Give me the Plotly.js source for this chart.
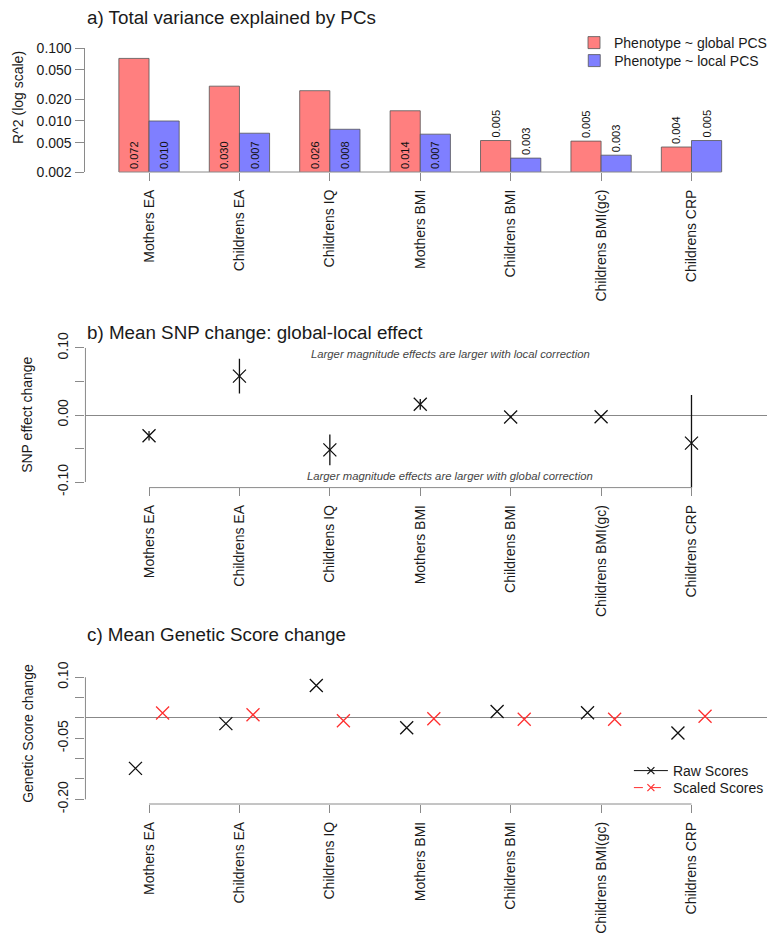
<!DOCTYPE html>
<html>
<head>
<meta charset="utf-8">
<script src="https://cdn.plot.ly/plotly-3.0.1.min.js"></script>
<style>html,body{margin:0;padding:0;background:#fff;}#chart{width:772px;height:934px;}</style>
</head>
<body>
<div id="chart"></div>
<script>
// ---------------- data ----------------
const categories = ["Mothers EA", "Childrens EA", "Childrens IQ", "Mothers BMI", "Childrens BMI", "Childrens BMI(gc)", "Childrens CRP"];

// a) R^2 of phenotype on PCs
const r2Global = [0.072, 0.030, 0.026, 0.0138, 0.0054, 0.0053, 0.0044];
const r2Local  = [0.0100, 0.0068, 0.0077, 0.0066, 0.0031, 0.0034, 0.0054];
const r2TickVals = [0.002, 0.005, 0.010, 0.020, 0.050, 0.100];
const r2TickText = ["0.002", "0.005", "0.010", "0.020", "0.050", "0.100"];

// b) mean SNP change (global - local) and error half-widths
const snpChange = [-0.031, 0.058, -0.052, 0.016, -0.003, -0.0025, -0.042];
const snpErr    = [0.007, 0.026, 0.023, 0.008, 0.002, 0.002, 0.072];
const snpTickVals = [-0.10, -0.05, 0.00, 0.05, 0.10];
const snpTickText = ["-0.10", "", "0.00", "", "0.10"];

// c) mean genetic score change
const rawScores    = [-0.124, -0.014, 0.080, -0.024, 0.016, 0.013, -0.037];
const scaledScores = [0.012, 0.008, -0.007, -0.002, -0.003, -0.003, 0.004];
const gsTickVals = [-0.20, -0.15, -0.10, -0.05, 0.00, 0.05, 0.10];
const gsTickText = ["-0.20", "", "", "-0.05", "", "", "0.10"];

// ---------------- layout helpers ----------------
const W = 772, H = 934;
const px = v => v / W;
const py = v => 1 - v / H;
const FONT = "Liberation Sans, Arial, Helvetica, sans-serif";
const AXC = "#8a8a8a";
const TXT = "#1a1a1a";
const RED = "#FF3030";
const idx = categories.map((_, i) => i);
const n = categories.length;
const xRange = [(86 - 150) / 91, (772 - 150) / 91];
const xDomain = [px(86), 1];

const inOut = v => (v > 0.006 ? "inside" : "outside");

const traces = [
  {
    type: "bar", x: idx, y: r2Global, name: "Phenotype ~ global PCS",
    marker: {color: "#FF7F7F", line: {color: "#555", width: 0.8}},
    text: r2Global.map(v => v.toFixed(3)), textposition: r2Global.map(inOut),
    textangle: -90, insidetextanchor: "start", constraintext: "none", cliponaxis: false,
    textfont: {size: 11, color: "#111", family: FONT},
    xaxis: "x", yaxis: "y", legend: "legend"
  },
  {
    type: "bar", x: idx, y: r2Local, name: "Phenotype ~ local PCS",
    marker: {color: "#7F7FFF", line: {color: "#555", width: 0.8}},
    text: r2Local.map(v => v.toFixed(3)), textposition: r2Local.map(inOut),
    textangle: -90, insidetextanchor: "start", constraintext: "none", cliponaxis: false,
    textfont: {size: 11, color: "#111", family: FONT},
    xaxis: "x", yaxis: "y", legend: "legend2"
  },
  {
    type: "scatter", mode: "markers", x: idx, y: snpChange, showlegend: false,
    marker: {symbol: "x-thin-open", size: 13, color: "#111", line: {color: "#111", width: 1.3}},
    error_y: {type: "data", array: snpErr, visible: true, width: 0, thickness: 1.3, color: "#111"},
    xaxis: "x2", yaxis: "y2"
  },
  {
    type: "scatter", mode: "markers", x: idx.map(i => i - 0.15), y: rawScores, showlegend: false,
    marker: {symbol: "x-thin-open", size: 13, color: "#111", line: {color: "#111", width: 1.3}},
    xaxis: "x3", yaxis: "y3"
  },
  {
    type: "scatter", mode: "markers", x: idx.map(i => i + 0.15), y: scaledScores, showlegend: false,
    marker: {symbol: "x-thin-open", size: 13, color: RED, line: {color: RED, width: 1.3}},
    xaxis: "x3", yaxis: "y3"
  },
  {
    type: "scatter", mode: "lines+markers", x: [null], y: [null], name: "Raw Scores",
    line: {color: "#111", width: 1},
    marker: {symbol: "x-thin-open", size: 7, color: "#111", line: {color: "#111", width: 1.2}},
    xaxis: "x3", yaxis: "y3", legend: "legend3"
  },
  {
    type: "scatter", mode: "lines+markers", x: [null], y: [null], name: "Scaled Scores",
    line: {color: RED, width: 1, dash: "dash"},
    marker: {symbol: "x-thin-open", size: 7, color: RED, line: {color: RED, width: 1.2}},
    xaxis: "x3", yaxis: "y3", legend: "legend4"
  }
];

function xAxis(anchor) {
  return {
    anchor: anchor, domain: xDomain, range: xRange, type: "linear",
    tickvals: idx, ticktext: categories, tickangle: -90,
    ticks: "outside", ticklen: 8, tickwidth: 1, tickcolor: AXC,
    showline: false, showgrid: false, zeroline: false,
    tickfont: {size: 14, color: TXT, family: FONT}, ticklabelstandoff: 3
  };
}

function legendAt(x, y, itemwidth) {
  return {
    x: px(x), y: py(y), xanchor: "left", yanchor: "middle",
    bgcolor: "rgba(0,0,0,0)", borderwidth: 0, itemwidth: itemwidth,
    font: {size: 14, color: TXT, family: FONT}, tracegroupgap: 0
  };
}

function note(text, x, y, opts) {
  return Object.assign({text: text, xref: "paper", yref: "paper", x: px(x), y: py(y),
    xanchor: "center", yanchor: "middle", showarrow: false,
    font: {size: 14, color: TXT, family: FONT}}, opts || {});
}

const layout = {
  width: W, height: H,
  margin: {l: 0, r: 0, t: 0, b: 0},
  paper_bgcolor: "#fff", plot_bgcolor: "rgba(0,0,0,0)",
  font: {family: FONT, color: TXT, size: 14},
  barmode: "group", bargap: 0.333, bargroupgap: 0,
  xaxis: xAxis("y"),
  xaxis2: xAxis("y2"),
  xaxis3: xAxis("y3"),
  yaxis: {
    anchor: "x", type: "log", domain: [py(172), py(48)],
    range: [Math.log10(0.002), Math.log10(0.1)],
    tickvals: r2TickVals, ticktext: r2TickText,
    ticks: "outside", ticklen: 9, tickcolor: AXC,
    showline: true, linecolor: AXC, linewidth: 1,
    showgrid: false, zeroline: false,
    tickfont: {size: 14, color: TXT, family: FONT}, ticklabelstandoff: 1
  },
  yaxis2: {
    anchor: "x2", domain: [py(487.4), py(342.6)], range: [-0.108, 0.108],
    tickvals: snpTickVals, ticktext: snpTickText, tickangle: -90,
    ticks: "outside", ticklen: 9, tickcolor: AXC,
    showline: false, showgrid: false,
    zeroline: true, zerolinecolor: "#888", zerolinewidth: 1,
    tickfont: {size: 14, color: TXT, family: FONT}, ticklabelstandoff: 2
  },
  yaxis3: {
    anchor: "x3", domain: [py(804.2), py(672.4)], range: [-0.212, 0.112],
    tickvals: gsTickVals, ticktext: gsTickText, tickangle: -90,
    ticks: "outside", ticklen: 9, tickcolor: AXC,
    showline: false, showgrid: false,
    zeroline: true, zerolinecolor: "#888", zerolinewidth: 1,
    tickfont: {size: 14, color: TXT, family: FONT}, ticklabelstandoff: 2
  },
  legend:  legendAt(578, 43, 30),
  legend2: legendAt(578, 61, 30),
  legend3: legendAt(633, 771, 34),
  legend4: legendAt(633, 788, 34),
  shapes: [
    // x axis lines (R style: first to last tick, plus the bar bottoms in panel a)
    {type: "line", xref: "x", yref: "paper", x0: -0.333, x1: n - 1 + 0.333, y0: py(172), y1: py(172), line: {color: AXC, width: 1}},
    {type: "line", xref: "x2", yref: "paper", x0: 0, x1: n - 1, y0: py(487.6), y1: py(487.6), line: {color: AXC, width: 1}},
    {type: "line", xref: "x3", yref: "paper", x0: 0, x1: n - 1, y0: py(804), y1: py(804), line: {color: AXC, width: 1}},
    // y axis lines (first to last tick)
    {type: "line", xref: "paper", yref: "y2", x0: px(86), x1: px(86), y0: snpTickVals[0], y1: snpTickVals[snpTickVals.length - 1], line: {color: AXC, width: 1}},
    {type: "line", xref: "paper", yref: "y3", x0: px(86), x1: px(86), y0: gsTickVals[0], y1: gsTickVals[gsTickVals.length - 1], line: {color: AXC, width: 1}}
  ],
  annotations: [
    note("a) Total variance explained by PCs", 86, 17, {xanchor: "left", font: {size: 18.8, color: TXT, family: FONT}}),
    note("b) Mean SNP change: global-local effect", 86, 332, {xanchor: "left", font: {size: 18.8, color: TXT, family: FONT}}),
    note("c) Mean Genetic Score change", 86, 634, {xanchor: "left", font: {size: 18.8, color: TXT, family: FONT}}),
    note("R^2 (log scale)", 18, 97, {textangle: -90}),
    note("SNP effect change", 27, 415, {textangle: -90}),
    note("Genetic Score change", 28, 733, {textangle: -90}),
    note("<i>Larger magnitude effects are larger with local correction</i>", 453, 354, {font: {size: 11.3, color: "#444", family: FONT}}),
    note("<i>Larger magnitude effects are larger with global correction</i>", 453, 476, {font: {size: 11.3, color: "#444", family: FONT}})
  ]
};

Plotly.newPlot("chart", traces, layout, {staticPlot: true, displayModeBar: false});
</script>
</body>
</html>
